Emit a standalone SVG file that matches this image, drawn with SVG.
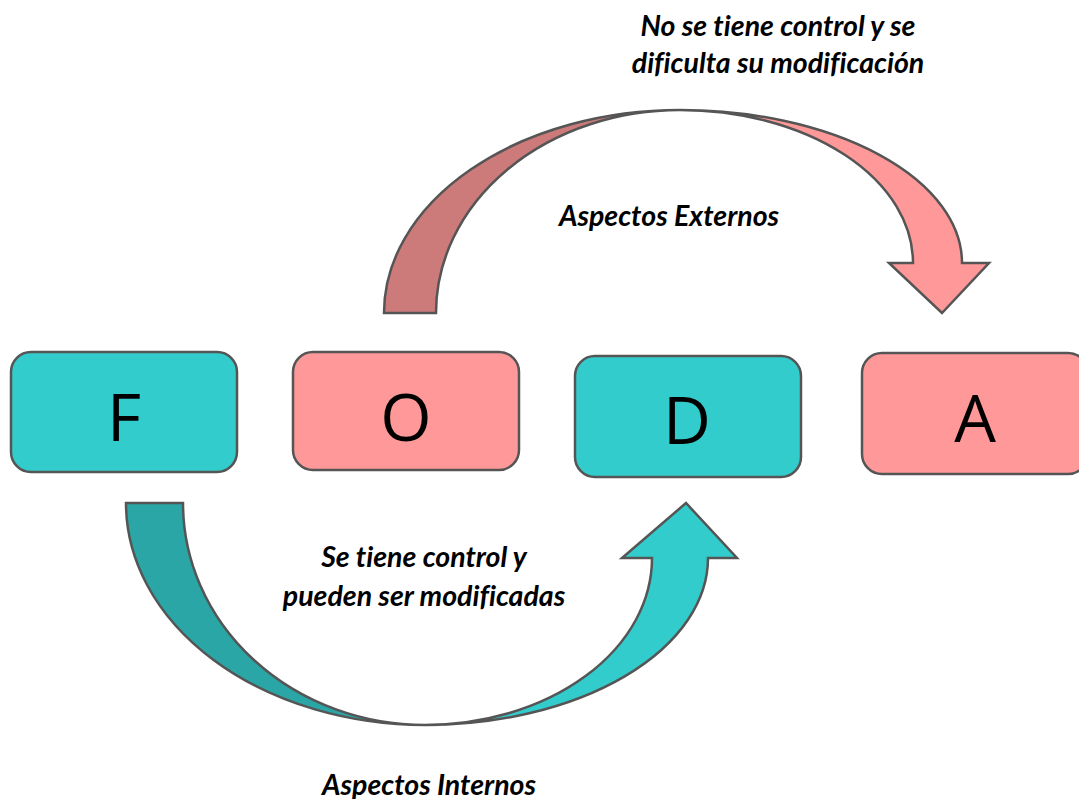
<svg xmlns="http://www.w3.org/2000/svg" width="1079" height="799" viewBox="0 0 1079 799">
<style>
.box{stroke:#555;stroke-width:2.5}
.teal{fill:#33CCCC}
.pink{fill:#FF9999}
.letter{font-family:"Open Sans","Liberation Sans",sans-serif;font-size:66px;fill:#000;text-anchor:middle}
.lbl{font-family:Lato,"Liberation Sans",sans-serif;font-size:28.5px;font-weight:bold;font-style:italic;fill:#000;text-anchor:middle;font-variant-ligatures:none}
.arr{stroke:#555;stroke-width:2.5;stroke-linejoin:miter}
</style>
<rect width="1079" height="799" fill="#fff"/>
<g id="connectors">
<g id="top-arrow">
<path class="arr" fill="#CC7A7A" d="M384,313 A296,203 0 0 1 680,110 A244,203 0 0 0 436,313 Z"/>
<path class="arr" fill="#FF9999" d="M680,110 A282,153 0 0 1 962,263 L989,263 L942,313 L889,263 L913,263 A233,153 0 0 0 680,110 Z"/>
</g>
<g id="bottom-arrow">
<path class="arr" fill="#2AA6A6" d="M126,503 A299,222 0 0 0 425,725 A242,222 0 0 1 183,503 Z"/>
<path class="arr" fill="#33CCCC" d="M425,725 A283,167 0 0 0 708,558 L737,558 L686,503 L622,558 L652,558 A227,167 0 0 1 425,725 Z"/>
</g>
</g>
<g id="node-F"><rect class="box teal" x="11" y="352" width="226" height="120" rx="20"/><text class="letter" x="124" y="441">F</text></g>
<g id="node-O"><rect class="box pink" x="293" y="352" width="226" height="118" rx="20"/><text class="letter" x="406" y="441">O</text></g>
<g id="node-D"><rect class="box teal" x="575" y="356" width="226" height="121" rx="20"/><text class="letter" x="687" y="444">D</text></g>
<g id="node-A"><rect class="box pink" x="862" y="353" width="226" height="121" rx="20"/><text class="letter" x="975" y="442">A</text></g>
<g id="labels">
<text class="lbl" x="778" y="36">No se tiene control y se</text>
<text class="lbl" x="778" y="73">dificulta su modificación</text>
<text class="lbl" x="669" y="226">Aspectos Externos</text>
<text class="lbl" x="424" y="567">Se tiene control y</text>
<text class="lbl" x="424" y="606">pueden ser modificadas</text>
<text class="lbl" x="429" y="795">Aspectos Internos</text>
</g>
</svg>
